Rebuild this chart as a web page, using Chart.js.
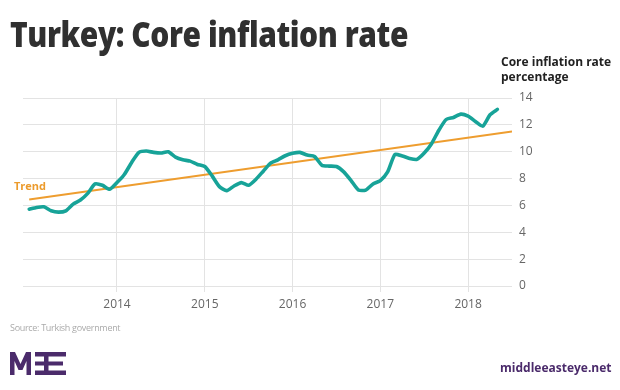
<!DOCTYPE html>
<html>
<head>
<meta charset="utf-8">
<script src="https://cdn.jsdelivr.net/npm/chart.js@4/dist/chart.umd.min.js"></script>
<style>
  html, body { margin: 0; padding: 0; background: #fff; }
  body { width: 620px; height: 390px; position: relative; overflow: hidden; font-family: "Open Sans", sans-serif; }
  #wrap { position: absolute; left: 0; top: 0; width: 620px; height: 390px; }
  .abs { position: absolute; white-space: nowrap; }
  #title { left: 10px; top: 16px; font-size: 35px; line-height: 35px; font-weight: 800; color: #303030; transform-origin: 0 0; letter-spacing: -0.5px; }
  #ytitle { left: 501px; top: 54px; font-size: 12px; line-height: 15px; font-weight: 700; color: #222; }
  #trend { left: 14px; top: 178px; font-size: 11px; line-height: 15px; font-weight: 700; color: #ec9b2c; }
  #source { left: 10px; top: 322px; font-size: 9px; line-height: 12px; color: #aaa; letter-spacing: -0.3px; }
  #url { left: 500px; top: 360px; font-size: 12px; line-height: 16px; font-weight: 700; color: #4b2b6b; }
  #logo { left: 10px; top: 352px; }
</style>
</head>
<body>
<div id="wrap"><canvas id="c" width="620" height="390"></canvas></div>
<div class="abs" id="title">Turkey: Core inflation rate</div>
<div class="abs" id="ytitle">Core inflation rate<br>percentage</div>
<div class="abs" id="trend">Trend</div>
<div class="abs" id="source">Source: Turkish government</div>
<div class="abs" id="url">middleeasteye.net</div>
<svg class="abs" id="logo" width="58" height="24" viewBox="0 0 58 24">
  <g fill="#4b2b6b">
    <polygon points="0,0 5,0 10.5,12 16,0 21,0 21,23 16.5,23 16.5,9 12.5,18 8.5,18 4.5,9 4.5,23 0,23"/>
    <rect x="25" y="0" width="10" height="4.5"/>
    <rect x="25" y="9.5" width="10" height="4"/>
    <rect x="25" y="18.5" width="10" height="4.5"/>
    <rect x="34" y="0" width="4.5" height="23"/>
    <rect x="34" y="0" width="22" height="4.5"/>
    <rect x="34" y="9.5" width="19" height="4"/>
    <rect x="34" y="18.5" width="22" height="4.5"/>
  </g>
</svg>
<script>
// ---- data (monthly, Jan 2013 = 0) ----
const monthIndex = [];
for (let i = 0; i < 65; i++) monthIndex.push(i);
const coreInflation = [
  5.72, 5.85, 5.9, 5.6, 5.5, 5.6, 6.1, 6.4, 6.9, 7.6, 7.5, 7.2,
  7.7, 8.3, 9.2, 9.95, 10.05, 9.95, 9.9, 10.0, 9.6, 9.4, 9.3, 9.05,
  8.9, 8.2, 7.4, 7.1, 7.45, 7.7, 7.5, 7.95, 8.55, 9.15, 9.4, 9.7,
  9.88, 9.95, 9.75, 9.65, 9.0, 8.93, 8.9, 8.5, 7.85, 7.15, 7.14, 7.6,
  7.85, 8.5, 9.8, 9.68, 9.5, 9.43, 9.9, 10.6, 11.6, 12.4, 12.55, 12.8,
  12.65, 12.25, 11.9, 12.75, 13.15
];
const trendX = [0, 66];
const trendY = [6.45, 11.5];
const yearTickPositions = [12, 24, 36, 48, 60];
const yearTickLabels = ['2014', '2015', '2016', '2017', '2018'];
const yTicks = [0, 2, 4, 6, 8, 10, 12, 14];

// fit title width
(function(){
  const t = document.getElementById('title');
  const w = t.getBoundingClientRect().width;
  t.style.transform = 'scaleX(' + (398 / w) + ')';
})();

const grid = '#e3e3e3';
new Chart(document.getElementById('c'), {
  type: 'line',
  data: {
    datasets: [
      {
        label: 'Core inflation',
        data: monthIndex.map((m, i) => ({ x: m, y: coreInflation[i] })),
        borderColor: '#17a398',
        borderWidth: 3.6,
        pointRadius: 0,
        tension: 0.2,
        borderJoinStyle: 'round',
        borderCapStyle: 'round',
        order: 0
      },
      {
        label: 'Trend',
        data: trendX.map((x, i) => ({ x: x, y: trendY[i] })),
        borderColor: '#ee9d2f',
        borderWidth: 2,
        pointRadius: 0,
        order: 1
      }
    ]
  },
  options: {
    responsive: false,
    animation: false,
    events: [],
    layout: { padding: { left: 23, top: 98, right: 0, bottom: 0 } },
    plugins: { legend: { display: false }, tooltip: { enabled: false } },
    scales: {
      x: {
        type: 'linear',
        min: -0.85,
        max: 66,
        afterBuildTicks: s => { s.ticks = yearTickPositions.map(v => ({ value: v })); },
        afterFit: s => { s.height = 104; },
        ticks: {
          callback: (v) => yearTickLabels[yearTickPositions.indexOf(v)],
          color: '#666',
          font: { family: 'Open Sans', size: 12 },
          padding: 5,
          maxRotation: 0,
          autoSkip: false
        },
        grid: { color: grid, tickLength: 6, drawOnChartArea: true },
        border: { display: false }
      },
      y: {
        position: 'right',
        min: 0,
        max: 14,
        afterBuildTicks: s => { s.ticks = yTicks.map(v => ({ value: v })); },
        afterFit: s => { s.width = 108; },
        ticks: {
          color: '#666',
          font: { family: 'Open Sans', size: 12 },
          padding: 7
        },
        grid: { color: grid, drawTicks: false },
        border: { display: false }
      }
    }
  }
});
</script>
</body>
</html>
